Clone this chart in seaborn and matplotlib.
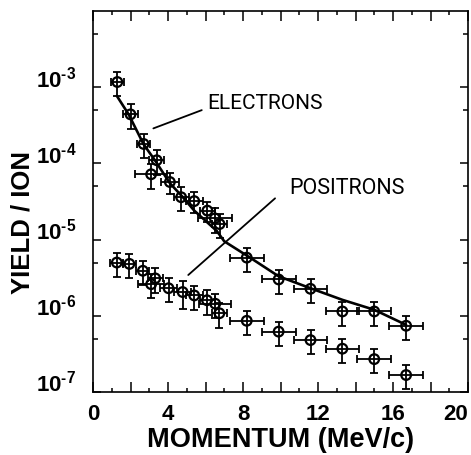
import numpy as np
import pandas as pd
import matplotlib
matplotlib.use("Agg")
import matplotlib.pyplot as plt
import seaborn as sns
from matplotlib.ticker import FixedLocator, NullFormatter

# ---------------- data ----------------
e_x = [1.3, 2.0, 2.7, 3.4, 3.1, 4.1, 4.7, 5.4, 6.1, 6.5, 6.75, 8.2, 9.9, 11.6, 13.3, 15.0, 16.7]
e_y = [1.17e-3, 4.4e-4, 1.8e-4, 1.1e-4, 7.2e-5, 5.7e-5, 3.6e-5, 3.2e-5, 2.4e-5, 1.9e-5, 1.6e-5,
       5.8e-6, 3.0e-6, 2.26e-6, 1.14e-6, 1.14e-6, 7.4e-7]
e_xerr = [0.35, 0.4, 0.35, 0.4, 0.85, 0.5, 0.4, 0.45, 0.4, 0.9, 0.4, 0.9, 0.9, 0.9, 0.9, 0.9, 0.9]
e_rel = [0.35, 0.35, 0.35, 0.35, 0.35, 0.3, 0.35, 0.3, 0.3, 0.35, 0.35, 0.35, 0.35, 0.35, 0.35, 0.35, 0.35]

p_x = [1.27, 1.94, 2.66, 3.32, 3.1, 4.03, 4.78, 5.4, 6.08, 6.52, 6.74, 8.2, 9.9, 11.6, 13.3, 15.0, 16.7]
p_y = [5.0e-6, 4.8e-6, 3.9e-6, 3.1e-6, 2.6e-6, 2.3e-6, 2.05e-6, 1.85e-6, 1.6e-6, 1.44e-6, 1.08e-6,
       8.6e-7, 6.2e-7, 4.8e-7, 3.7e-7, 2.7e-7, 1.67e-7]
p_xerr = [0.35, 0.35, 0.35, 0.4, 0.7, 0.45, 0.45, 0.45, 0.4, 0.85, 0.4, 0.9, 0.9, 0.9, 0.9, 0.9, 0.9]
p_rel = [0.35, 0.35, 0.35, 0.35, 0.35, 0.35, 0.4, 0.35, 0.35, 0.35, 0.35, 0.35, 0.35, 0.35, 0.35, 0.35, 0.35]

fit_x = [1.27, 1.9, 2.7, 3.3, 4.1, 4.75, 5.4, 6.6, 7.0, 8.4, 9.9, 11.6, 13.3, 15.0, 16.7]
fit_y = [7.7e-4, 4.4e-4, 1.78e-4, 1.1e-4, 5.5e-5, 3.7e-5, 2.4e-5, 1.3e-5, 9.5e-6, 5.75e-6,
         3.3e-6, 2.3e-6, 1.62e-6, 1.2e-6, 7.6e-7]

x_ticks = [0, 2, 4, 6, 8, 10, 12, 14, 16, 18, 20]
x_tick_labels = ["0", "", "4", "", "8", "", "12", "", "16", "", "20"]
x_minor = [1, 3, 5, 7, 9, 11, 13, 15, 17, 19]
y_ticks = [1e-7, 1e-6, 1e-5, 1e-4, 1e-3]
y_tick_labels = [r"$\mathbf{10^{\text{-}7}}$", r"$\mathbf{10^{\text{-}6}}$", r"$\mathbf{10^{\text{-}5}}$",
                 r"$\mathbf{10^{\text{-}4}}$", r"$\mathbf{10^{\text{-}3}}$"]
y_minor = [5e-7, 5e-6, 5e-5, 5e-4, 5e-3]

x_label = "MOMENTUM (MeV/c)"
y_label = "YIELD / ION"
electron_text = "ELECTRONS"
positron_text = "POSITRONS"

# ---------------- style ----------------
sns.set_style("ticks")
plt.rcParams["font.family"] = ["Liberation Sans", "DejaVu Sans"]
plt.rcParams["mathtext.fontset"] = "custom"
plt.rcParams["mathtext.bf"] = "Liberation Sans:bold"
plt.rcParams["mathtext.rm"] = "Liberation Sans:bold"
plt.rcParams["mathtext.it"] = "Liberation Sans:bold"
for key in ["text.color", "axes.labelcolor", "xtick.color", "ytick.color", "axes.edgecolor"]:
    plt.rcParams[key] = "black"

fig = plt.figure(figsize=(4.71, 4.55), dpi=100)
ax = fig.add_axes([93 / 471, 1 - 392 / 455, 375 / 471, 381 / 455])
ax.set_yscale("log")

# electron fit curve
fit_df = pd.DataFrame({"x": fit_x, "y": fit_y})
sns.lineplot(data=fit_df, x="x", y="y", ax=ax, color="black", linewidth=1.9,
             sort=False, estimator=None, zorder=2)

def draw_series(xs, ys, xerr, rel):
    ys = np.asarray(ys)
    rel = np.asarray(rel)
    ax.errorbar(xs, ys, xerr=xerr, yerr=[ys * rel, ys * rel], fmt="none",
                ecolor="black", elinewidth=1.3, capsize=2.6, capthick=1.3, zorder=3)
    df = pd.DataFrame({"x": xs, "y": ys})
    sns.scatterplot(data=df, x="x", y="y", ax=ax, marker="o", s=48,
                    facecolors="none", edgecolor="black", linewidth=1.6, zorder=4)

draw_series(e_x, e_y, e_xerr, e_rel)
draw_series(p_x, p_y, p_xerr, p_rel)

# annotations
ax.text(9.17, 6.2e-4, electron_text, ha="center", va="center", fontsize=15,
        family="Roboto", color="black")
ax.plot([3.22, 5.80], [2.88e-4, 5.0e-4], color="black", linewidth=1.3)
ax.text(13.55, 4.75e-5, positron_text, ha="center", va="center", fontsize=15.5,
        family="Roboto", color="black")
ax.plot([5.08, 9.71], [3.43e-6, 3.48e-5], color="black", linewidth=1.3)

# axes
ax.set_xlim(0, 20)
ax.set_ylim(1e-7, 1e-2)
ax.set_xticks(x_ticks)
ax.set_xticklabels(x_tick_labels, fontsize=16, fontweight="bold")
ax.get_xticklabels()[-1].set_ha("right")
ax.xaxis.set_minor_locator(FixedLocator(x_minor))
ax.set_yticks(y_ticks)
ax.set_yticklabels(y_tick_labels, fontsize=16)
ax.yaxis.set_minor_locator(FixedLocator(y_minor))
ax.yaxis.set_minor_formatter(NullFormatter())
for lbl in ax.get_yticklabels():
    lbl.set_va("baseline")

ax.tick_params(which="both", direction="in", top=True, right=True, width=1.1, color="black")
ax.tick_params(axis="x", which="major", length=7, pad=9)
ax.tick_params(axis="x", which="minor", length=3.2)
ax.tick_params(axis="y", which="major", length=6, pad=12)
ax.tick_params(axis="y", which="minor", length=3.5)
for sp in ax.spines.values():
    sp.set_linewidth(1.2)
    sp.set_color("black")

ax.set_xlabel(x_label, fontsize=19.5, fontweight="bold", labelpad=1)
ax.set_ylabel(y_label, fontsize=18.5, fontweight="bold")
ax.yaxis.set_label_coords(-0.155, 0.444)

fig.savefig("out.png", dpi=100)
